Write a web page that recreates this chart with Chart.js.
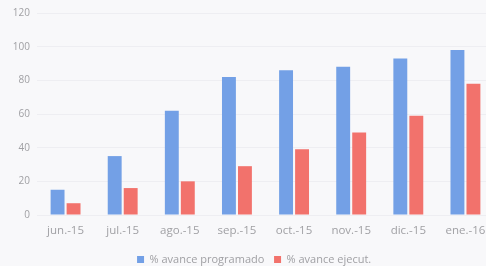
<!DOCTYPE html>
<html>
<head>
<meta charset="utf-8">
<script src="https://cdn.jsdelivr.net/npm/chart.js@4/dist/chart.umd.min.js"></script>
<style>
  html, body { margin: 0; padding: 0; background: #f8f8fa; overflow: hidden; }
  #wrap { width: 496px; height: 266px; }
</style>
</head>
<body>
<div id="wrap"><canvas id="avanceChart" width="496" height="266"></canvas></div>
<script>
const meses = ["jun.-15", "jul.-15", "ago.-15", "sep.-15", "oct.-15", "nov.-15", "dic.-15", "ene.-16"];
const programado = [15, 35, 62, 82, 86, 88, 93, 98];
const ejecutado = [7, 16, 20, 29, 39, 49, 59, 78];
const ticksY = [0, 20, 40, 60, 80, 100, 120];

const gris = "#a0a0a4";

// nudge legend to where it sits in the original
const moverLeyenda = {
  id: "moverLeyenda",
  afterLayout(chart) {
    const l = chart.legend;
    l.left += 10; l.right += 10;
    l.top += 9; l.bottom += 9;
  }
};

const chart = new Chart(document.getElementById("avanceChart"), {
  type: "bar",
  data: {
    labels: meses,
    datasets: [
      {
        label: "% avance programado",
        data: programado,
        backgroundColor: "#73a0e6",
        categoryPercentage: 0.56,
        barPercentage: 0.87
      },
      {
        label: "% avance ejecut.",
        data: ejecutado,
        backgroundColor: "#f2726c",
        categoryPercentage: 0.56,
        barPercentage: 0.87
      }
    ]
  },
  plugins: [moverLeyenda],
  options: {
    responsive: false,
    animation: false,
    layout: { padding: { top: 8, right: 2, left: 0, bottom: 0 } },
    plugins: {
      tooltip: { enabled: false },
      legend: {
        position: "bottom",
        labels: {
          boxWidth: 7,
          boxHeight: 7,
          padding: 4,
          color: gris,
          font: { family: "Open Sans", size: 11 },
          generateLabels: (c) => Chart.defaults.plugins.legend.labels.generateLabels(c).map((l) => ({ ...l, text: l.text + "  " }))
        }
      }
    },
    scales: {
      x: {
        grid: { display: false },
        border: { display: false },
        afterFit: (scale) => { scale.height = 26; },
        ticks: {
          color: gris,
          padding: 1,
          maxRotation: 0,
          font: { family: "Open Sans", size: 11.5 }
        }
      },
      y: {
        min: 0,
        max: 120,
        afterBuildTicks: (scale) => { scale.ticks = ticksY.map((v) => ({ value: v })); },
        afterFit: (scale) => { scale.width = 37; },
        grid: { color: "#eeeef2", drawTicks: false },
        border: { display: false },
        ticks: {
          color: gris,
          padding: 7,
          font: { family: "Open Sans", size: 10 }
        }
      }
    }
  }
});
</script>
</body>
</html>
